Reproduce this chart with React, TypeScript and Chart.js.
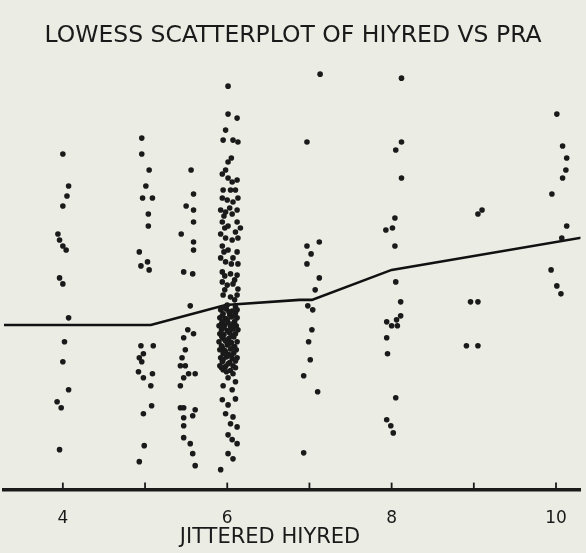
import React, { useEffect, useRef } from "react";
import { Chart, registerables } from "chart.js";

Chart.register(...registerables);

const TITLE = "LOWESS SCATTERPLOT OF HIYRED VS PRA";
const X_TITLE = "JITTERED HIYRED";
const X_TICKS = [4, 5, 6, 7, 8, 9, 10];
const X_TICK_LABELS: Record<number, string> = { 4: "4", 6: "6", 8: "8", 10: "10" };
const X_MIN = 3.284;
const X_MAX = 10.297;
const Y_MIN = 0;
const Y_MAX = 1.1;

// jittered HIYRED (x) vs PRA (y), grouped by HIYRED level
const HIYRED_4: [number, number][] = [
  [4.0, 0.84], [4.07, 0.76], [4.05, 0.735], [4.0, 0.71], [3.94, 0.64], [3.96, 0.625],
  [4.0, 0.61], [4.04, 0.6], [3.96, 0.53], [4.0, 0.515], [4.07, 0.43], [4.02, 0.37],
  [4.0, 0.32], [4.07, 0.25], [3.93, 0.22], [3.98, 0.205], [3.96, 0.1],
];

const HIYRED_5: [number, number][] = [
  [4.96, 0.88], [4.96, 0.84], [5.05, 0.8], [5.01, 0.76], [4.97, 0.73], [5.09, 0.73],
  [5.04, 0.69], [5.04, 0.66], [4.93, 0.595], [4.95, 0.56], [5.03, 0.57], [5.05, 0.55],
  [4.95, 0.36], [5.1, 0.36], [4.98, 0.34], [4.93, 0.33], [4.96, 0.32], [4.92, 0.295],
  [4.98, 0.28], [5.09, 0.29], [5.07, 0.26], [5.08, 0.21], [4.98, 0.19], [4.99, 0.11],
  [4.93, 0.07],
];

const HIYRED_55: [number, number][] = [
  [5.56, 0.8], [5.59, 0.74], [5.5, 0.71], [5.59, 0.7], [5.59, 0.67], [5.44, 0.64],
  [5.59, 0.62], [5.59, 0.6], [5.47, 0.545], [5.58, 0.54], [5.55, 0.46], [5.52, 0.4],
  [5.59, 0.39], [5.47, 0.38], [5.49, 0.35], [5.45, 0.33], [5.43, 0.31], [5.49, 0.31],
  [5.47, 0.28], [5.53, 0.29], [5.61, 0.29], [5.43, 0.26], [5.43, 0.205], [5.47, 0.205],
  [5.61, 0.2], [5.58, 0.185], [5.47, 0.18], [5.47, 0.16], [5.47, 0.13], [5.55, 0.115],
  [5.58, 0.09], [5.61, 0.06],
];

const HIYRED_6_UPPER: [number, number][] = [
  [6.01, 1.01], [6.01, 0.94], [6.12, 0.93], [5.98, 0.9], [5.95, 0.875], [6.07, 0.875],
  [6.13, 0.87], [6.05, 0.83], [6.01, 0.82], [5.94, 0.79], [5.98, 0.8], [6.01, 0.78],
  [6.06, 0.77], [6.12, 0.775], [5.95, 0.75], [6.04, 0.75], [6.1, 0.75], [5.94, 0.73],
  [6.0, 0.725], [6.07, 0.72], [6.13, 0.73], [5.92, 0.7], [5.98, 0.695], [6.06, 0.69],
  [6.12, 0.7], [5.94, 0.67], [6.01, 0.66], [6.12, 0.67], [6.16, 0.655], [5.92, 0.64],
  [5.98, 0.63], [6.1, 0.645], [6.13, 0.63], [5.94, 0.61], [6.01, 0.6], [6.12, 0.595],
  [5.92, 0.58], [5.98, 0.57], [6.07, 0.58], [6.13, 0.565], [5.94, 0.545], [6.04, 0.54],
  [6.12, 0.537], [5.94, 0.52], [6.0, 0.512], [6.07, 0.515], [6.13, 0.502], [5.95, 0.487],
  [6.04, 0.482], [6.12, 0.487], [6.0, 0.462], [6.1, 0.457],
  [5.96, 0.685], [6.03, 0.705], [5.97, 0.655], [6.06, 0.625], [5.96, 0.595], [6.05, 0.565],
  [5.97, 0.535], [6.09, 0.525], [5.97, 0.5], [6.09, 0.475],
];

const HIYRED_6_DENSE: [number, number][] = [
  [5.92, 0.45], [5.99, 0.452], [6.06, 0.447], [6.12, 0.45], [5.95, 0.44], [6.03, 0.438],
  [6.1, 0.442], [5.91, 0.43], [5.98, 0.428], [6.05, 0.432], [6.12, 0.43], [5.94, 0.42],
  [6.01, 0.418], [6.09, 0.421], [5.9, 0.41], [5.97, 0.412], [6.04, 0.408], [6.11, 0.41],
  [5.93, 0.4], [6.0, 0.398], [6.07, 0.402], [6.13, 0.4], [5.91, 0.39], [5.96, 0.388],
  [6.03, 0.392], [6.1, 0.39], [5.94, 0.38], [6.02, 0.378], [6.08, 0.382], [5.9, 0.37],
  [5.98, 0.372], [6.05, 0.368], [6.12, 0.37], [5.93, 0.36], [6.0, 0.362], [6.09, 0.358],
  [5.91, 0.35], [5.97, 0.348], [6.04, 0.352], [6.11, 0.35], [5.95, 0.34], [6.02, 0.338],
  [6.08, 0.342], [5.92, 0.33], [5.99, 0.332], [6.06, 0.328], [6.12, 0.33], [5.94, 0.32],
  [6.03, 0.318], [6.1, 0.322], [5.91, 0.31], [5.98, 0.308], [6.07, 0.31], [5.95, 0.3],
  [6.04, 0.298],
  [5.95, 0.455], [6.02, 0.445], [6.09, 0.435], [5.94, 0.435], [6.0, 0.425], [5.93, 0.415],
  [6.07, 0.415], [5.96, 0.405], [6.03, 0.395], [5.93, 0.385], [6.06, 0.385], [5.97, 0.375],
  [6.02, 0.365], [5.94, 0.355], [6.07, 0.355], [5.98, 0.345], [6.05, 0.335], [5.95, 0.325],
  [6.01, 0.315], [5.93, 0.305], [6.1, 0.305], [5.99, 0.295], [6.07, 0.29],
];

const HIYRED_6_LOWER: [number, number][] = [
  [6.01, 0.28], [6.1, 0.27], [5.95, 0.26], [6.06, 0.25], [5.94, 0.225], [6.01, 0.212],
  [6.1, 0.227], [5.98, 0.19], [6.07, 0.182], [6.04, 0.165], [6.12, 0.157], [6.01, 0.137],
  [6.06, 0.125], [6.12, 0.115], [6.01, 0.09], [6.07, 0.077], [5.92, 0.05],
];

const HIYRED_7: [number, number][] = [
  [7.13, 1.04], [6.97, 0.87], [7.12, 0.62], [6.97, 0.61], [7.02, 0.59], [6.97, 0.565],
  [7.12, 0.53], [7.07, 0.5], [6.98, 0.46], [7.04, 0.45], [7.03, 0.4], [6.99, 0.37],
  [7.01, 0.325], [6.93, 0.285], [7.1, 0.245], [6.93, 0.092],
];

const HIYRED_8: [number, number][] = [
  [8.12, 1.03], [8.12, 0.87], [8.05, 0.85], [8.12, 0.78], [8.04, 0.68], [7.93, 0.65],
  [8.01, 0.655], [8.04, 0.61], [8.05, 0.52], [8.11, 0.47], [7.94, 0.42], [8.0, 0.41],
  [8.06, 0.425], [8.11, 0.435], [8.07, 0.41], [7.94, 0.38], [7.95, 0.34], [8.05, 0.23],
  [7.94, 0.175], [7.99, 0.16], [8.02, 0.142],
];

const HIYRED_9: [number, number][] = [
  [9.05, 0.69], [9.1, 0.7], [8.96, 0.47], [9.05, 0.47], [8.91, 0.36], [9.05, 0.36],
];

const HIYRED_10: [number, number][] = [
  [10.01, 0.94], [10.08, 0.86], [10.13, 0.83], [10.12, 0.8], [10.08, 0.78], [9.95, 0.74],
  [10.13, 0.66], [10.07, 0.63], [9.94, 0.55], [10.01, 0.51], [10.06, 0.49],
];

const LOWESS_X = [3.2, 5.07, 5.98, 6.88, 7.03, 8.0, 10.35];
const LOWESS_Y = [0.412, 0.412, 0.462, 0.475, 0.475, 0.55, 0.632];

const INK = "#1a1a1a";
const PAPER = "#ebece4";

const innerTicks = {
  id: "innerTicks",
  afterDraw(chart: any) {
    const s = chart.scales.x;
    const ctx = chart.ctx;
    ctx.save();
    ctx.strokeStyle = INK;
    ctx.lineWidth = 1.8;
    s.ticks.forEach((t: any) => {
      const px = s.getPixelForValue(t.value);
      ctx.beginPath();
      ctx.moveTo(px, s.top);
      ctx.lineTo(px, s.top - 7);
      ctx.stroke();
    });
    ctx.restore();
  },
};

export default function App() {
  const ref = useRef<HTMLCanvasElement>(null);

  useEffect(() => {
    document.body.style.margin = "0";
    document.body.style.background = PAPER;
    const all = [
      ...HIYRED_4, ...HIYRED_5, ...HIYRED_55, ...HIYRED_6_UPPER, ...HIYRED_6_DENSE,
      ...HIYRED_6_LOWER, ...HIYRED_7, ...HIYRED_8, ...HIYRED_9, ...HIYRED_10,
    ].map(([x, y]) => ({ x, y }));
    const lowess = LOWESS_X.map((x, i) => ({ x, y: LOWESS_Y[i] }));

    const chart = new Chart(ref.current as HTMLCanvasElement, {
      type: "scatter",
      data: {
        datasets: [
          {
            label: "PRA",
            data: all,
            pointRadius: 2.8,
            pointBackgroundColor: INK,
            pointBorderWidth: 0,
            borderColor: INK,
          },
          {
            label: "LOWESS",
            data: lowess,
            showLine: true,
            pointRadius: 0,
            borderColor: "#111",
            borderWidth: 2.6,
            tension: 0,
          } as any,
        ],
      },
      options: {
        animation: false,
        responsive: false,
        layout: { padding: { top: 0, left: 0, right: 0, bottom: 5 } },
        plugins: {
          legend: { display: false },
          tooltip: { enabled: false },
          title: {
            display: true,
            text: TITLE,
            color: INK,
            font: { family: "DejaVu Sans", size: 23.5, weight: "normal" },
            padding: { top: 22, bottom: 0 },
          },
        },
        scales: {
          x: {
            type: "linear",
            min: X_MIN,
            max: X_MAX,
            afterBuildTicks: (scale: any) => {
              scale.ticks = X_TICKS.map((v) => ({ value: v }));
            },
            grid: { display: false, drawTicks: false },
            border: { display: true, color: INK, width: 3.5 },
            ticks: {
              color: INK,
              padding: 19,
              maxRotation: 0,
              autoSkip: false,
              font: { family: "DejaVu Sans", size: 17 },
              callback: (v: any) => X_TICK_LABELS[Number(v)] ?? "",
            },
          },
          y: {
            display: false,
            min: Y_MIN,
            max: Y_MAX,
          },
        },
      },
      plugins: [innerTicks],
    });
    return () => chart.destroy();
  }, []);

  return (
    <div style={{ position: "absolute", left: 0, top: 0, width: 586, height: 553, background: PAPER }}>
      <canvas ref={ref} width={586} height={553} style={{ display: "block" }} />
      <div
        style={{
          position: "absolute",
          left: 0,
          width: 540,
          top: 524,
          textAlign: "center",
          fontFamily: "DejaVu Sans",
          fontSize: 21,
          color: INK,
          lineHeight: "24px",
        }}
      >
        {X_TITLE}
      </div>
    </div>
  );
}
